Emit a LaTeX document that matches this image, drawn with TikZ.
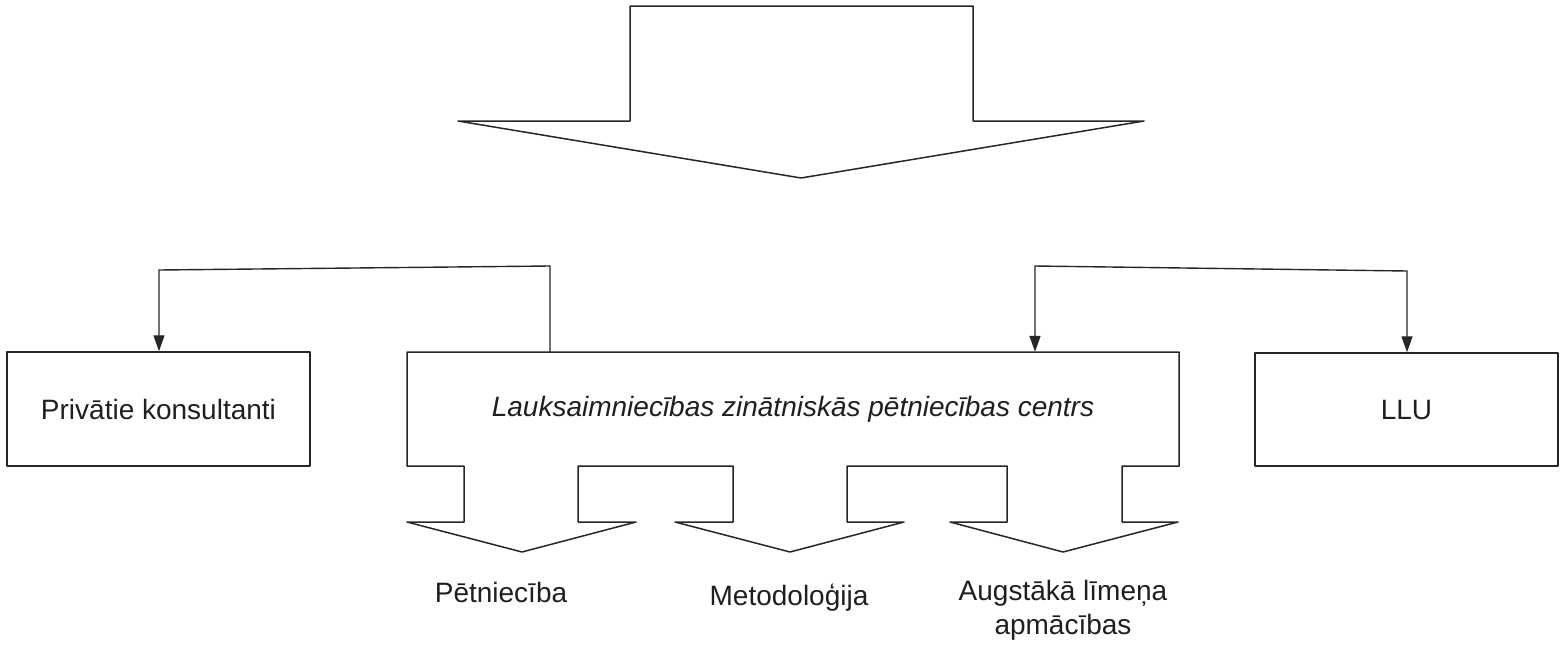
\documentclass[tikz,border=0pt]{standalone}
\usepackage{fontspec}
\setmainfont{Liberation Sans}
\usetikzlibrary{arrows.meta,calc}
\begin{document}
\begin{tikzpicture}[x=1pt,y=-1pt,
  line/.style={draw=black!85,line width=1.5pt,line join=round},
  conn/.style={draw=black!85,line width=1.4pt},
  tip/.style={-{Triangle[length=16pt,width=11pt]}},
  box/.style={line,rectangle,inner sep=0pt,align=center,text=black!88},
  lbl/.style={inner sep=0pt,align=center,text=black!88},
  font=\fontsize{28}{34}\selectfont]
\useasboundingbox (0,0) rectangle (1560,645);
% top block arrow
\draw[line] (630,6) -- (973,6) -- (973,121) -- (1144,121) -- (801,178)
  -- (458,121) -- (630,121) -- cycle;
% boxes
\node[box,minimum width=303pt,minimum height=114pt] (priv) at (158.5,409) {Privātie konsultanti};
\node[box,minimum width=303pt,minimum height=113pt] (llu) at (1406.5,409.5) {LLU};
\node[lbl,minimum width=772pt,minimum height=114pt] (lzpc) at (793,409) {\itshape Lauksaimniecības zinātniskās pētniecības centrs};
% centre box outline with three block arrows
\draw[line] (407,352) -- (1179,352) -- (1179,466) -- (1122,466) -- (1122,522)
  -- (1178,522) -- (1063,552) -- (950,522) -- (1007,522) -- (1007,466)
  -- (847,466) -- (847,522) -- (904,522) -- (790,552) -- (675,522)
  -- (733,522) -- (733,466) -- (578,466) -- (578,522) -- (636,522)
  -- (522,552) -- (407,522) -- (464,522) -- (464,466) -- (407,466) -- cycle;
% labels under arrows
\node[lbl,anchor=base] (pet) at (501,602) {Pētniecība};
\node[lbl,anchor=base] (met) at (789,605) {Metodoloģija};
\node[lbl,anchor=north] (aug) at (1063,580.5) {Augstākā līmeņa\\apmācības};
% connectors
\coordinate (c1) at (550,266);
\coordinate (c2) at (159,270);
\coordinate (c3) at (1035,266);
\coordinate (c4) at (1407,271);
\draw[conn,tip] (c1 |- lzpc.north) -- (c1) -- (c2) -- (c2 |- priv.north);
\draw[conn,{Triangle[length=16pt,width=11pt]}-{Triangle[length=16pt,width=11pt]}]
  (c3 |- lzpc.north) -- (c3) -- (c4) -- (c4 |- llu.north);
\end{tikzpicture}
\end{document}
